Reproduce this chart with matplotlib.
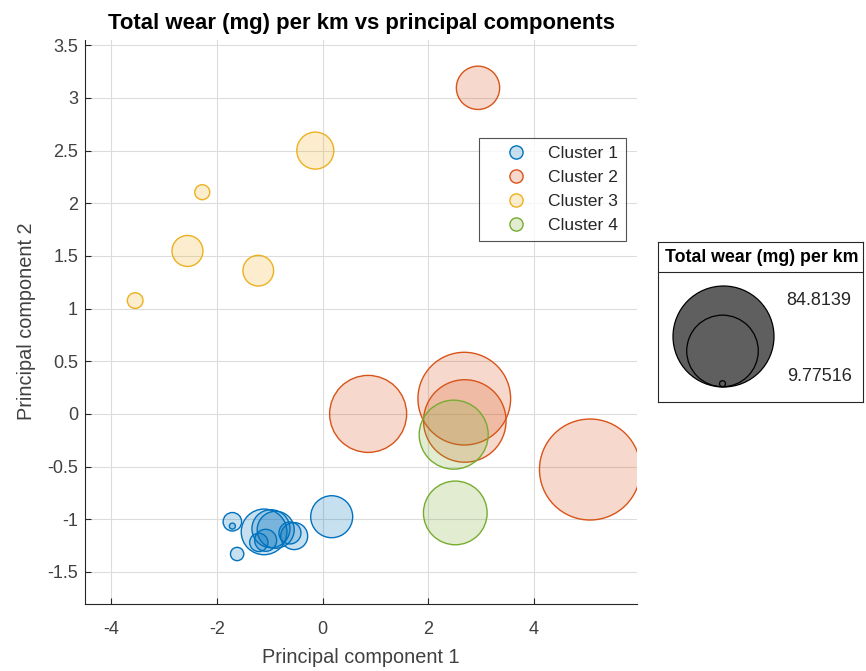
import numpy as np
import matplotlib
matplotlib.use('Agg')
import matplotlib.pyplot as plt
from matplotlib.lines import Line2D
from matplotlib.colors import to_rgba

plt.rcParams['font.family'] = ['Liberation Sans', 'DejaVu Sans']
plt.rcParams['axes.unicode_minus'] = False

# Principal component scores and total wear per km, grouped by cluster
c1_pc1 = [0.17, -1.71, -1.71, -1.62, -1.11, -0.98, -0.89, -1.21, -1.08, -0.54, -0.62]
c1_pc2 = [-0.976, -1.024, -1.065, -1.33, -1.12, -1.09, -1.10, -1.22, -1.20, -1.16, -1.13]
c1_wear = [22.53, 12.04, 9.77516, 10.82, 24.93, 20.17, 19.62, 11.98, 13.08, 14.89, 13.08]

c2_pc1 = [2.94, 0.86, 2.68, 2.69, 5.06]
c2_pc2 = [3.096, 0.0, 0.145, -0.067, -0.528]
c2_wear = [23.35, 53.28, 72.95, 59.75, 84.8139]

c3_pc1 = [-0.14, -2.28, -2.56, -1.22, -3.55]
c3_pc2 = [2.5, 2.105, 1.547, 1.36, 1.076]
c3_wear = [19.62, 11.17, 16.60, 16.47, 11.33]

c4_pc1 = [2.48, 2.51]
c4_pc2 = [-0.197, -0.94]
c4_wear = [44.66, 39.46]

cluster_names = ['Cluster 1', 'Cluster 2', 'Cluster 3', 'Cluster 4']
cluster_colors = ['#0072BD', '#D95319', '#EDB120', '#77AC30']

DPI = 100
D_MIN, D_MAX = 6.0, 101.0  # bubble diameters in pixels

all_wear = np.concatenate([c1_wear, c2_wear, c3_wear, c4_wear])
w_min, w_max = all_wear.min(), all_wear.max()


def bubble_diam(w):
    # bubble area grows linearly with the wear value
    w = np.asarray(w, dtype=float)
    frac = (w - w_min) / (w_max - w_min)
    return np.sqrt(D_MIN ** 2 + frac * (D_MAX ** 2 - D_MIN ** 2))


def bubble_s(w):
    return (bubble_diam(w) * 72.0 / DPI) ** 2


fig = plt.figure(figsize=(8.66, 6.71), dpi=DPI)
ax = fig.add_axes([85 / 866, 1 - 603.5 / 671, 552 / 866, 563.5 / 671])

groups = [(c1_pc1, c1_pc2, c1_wear), (c2_pc1, c2_pc2, c2_wear),
          (c3_pc1, c3_pc2, c3_wear), (c4_pc1, c4_pc2, c4_wear)]
for (px, py, pw), col in zip(groups, cluster_colors):
    ax.scatter(px, py, s=bubble_s(pw), facecolor=to_rgba(col, 0.22),
               edgecolor=col, linewidth=1.0, zorder=3)

ax.set_xlim(-4.5, 5.95)
ax.set_ylim(-1.8, 3.55)
ax.set_xticks([-4, -2, 0, 2, 4])
ax.set_yticks(np.arange(-1.5, 3.51, 0.5))
ax.set_yticklabels(['-1.5', '-1', '-0.5', '0', '0.5', '1', '1.5', '2', '2.5', '3', '3.5'])
ax.grid(True, color='#dcdcdc', linewidth=0.8, zorder=0)
ax.set_axisbelow(True)
for side in ['top', 'right']:
    ax.spines[side].set_visible(False)
for side in ['left', 'bottom']:
    ax.spines[side].set_color('#262626')
    ax.spines[side].set_linewidth(0.8)
ax.tick_params(direction='in', length=4, width=0.8, color='#262626',
               labelcolor='#404040', labelsize=13, pad=5)
ax.tick_params(axis='x', pad=12.6)

ax.set_title('Total wear (mg) per km vs principal components',
             fontsize=15.9, fontweight='bold', pad=8)
ax.set_xlabel('Principal component 1', fontsize=14.3, color='#404040', labelpad=7.5)
ax.set_ylabel('Principal component 2', fontsize=14.3, color='#404040', labelpad=8)

handles = [Line2D([], [], linestyle='none', marker='o', markersize=9.5,
                  markerfacecolor=to_rgba(c, 0.22), markeredgecolor=c,
                  markeredgewidth=1.0) for c in cluster_colors]
leg = ax.legend(handles, cluster_names, loc='upper left',
                bbox_to_anchor=(479 / 866, 1 - 138 / 671),
                bbox_transform=fig.transFigure, borderaxespad=0,
                fontsize=12.6, frameon=True, fancybox=False,
                handletextpad=0.2, labelspacing=0.5, borderpad=0.45,
                handlelength=3.3)
leg.get_frame().set_edgecolor('#262626')
leg.get_frame().set_linewidth(0.8)
for t in leg.get_texts():
    t.set_color('#262626')

# size legend drawn in its own pixel-unit axes
lax = fig.add_axes([658 / 866, 1 - 401.7 / 671, 205 / 866, 160 / 671])
lax.set_xlim(0, 205)
lax.set_ylim(0, 160)
lax.set_xticks([])
lax.set_yticks([])
for sp in lax.spines.values():
    sp.set_color('#262626')
    sp.set_linewidth(0.8)
lax.axhline(129.4, color='#262626', linewidth=0.8)
lax.text(104, 144.7, 'Total wear (mg) per km', ha='center', va='center',
         fontsize=12.8, fontweight='bold')

leg_vals = [w_max, (w_max + w_min) / 2, w_min]
for i, v in enumerate(leg_vals):
    d = bubble_diam(v)
    lax.scatter([64.5], [15 + d / 2], s=bubble_s(v),
                facecolor='#5f5f5f' if i == 0 else 'none',
                edgecolor='black', linewidth=0.9, zorder=3 + i)
lax.text(128.7, 101, f'{w_max:g}', ha='left', va='center', fontsize=13,
         color='#262626')
lax.text(128.7, 25, f'{w_min:g}', ha='left', va='center', fontsize=13,
         color='#262626')

fig.savefig('out.png', dpi=DPI)
